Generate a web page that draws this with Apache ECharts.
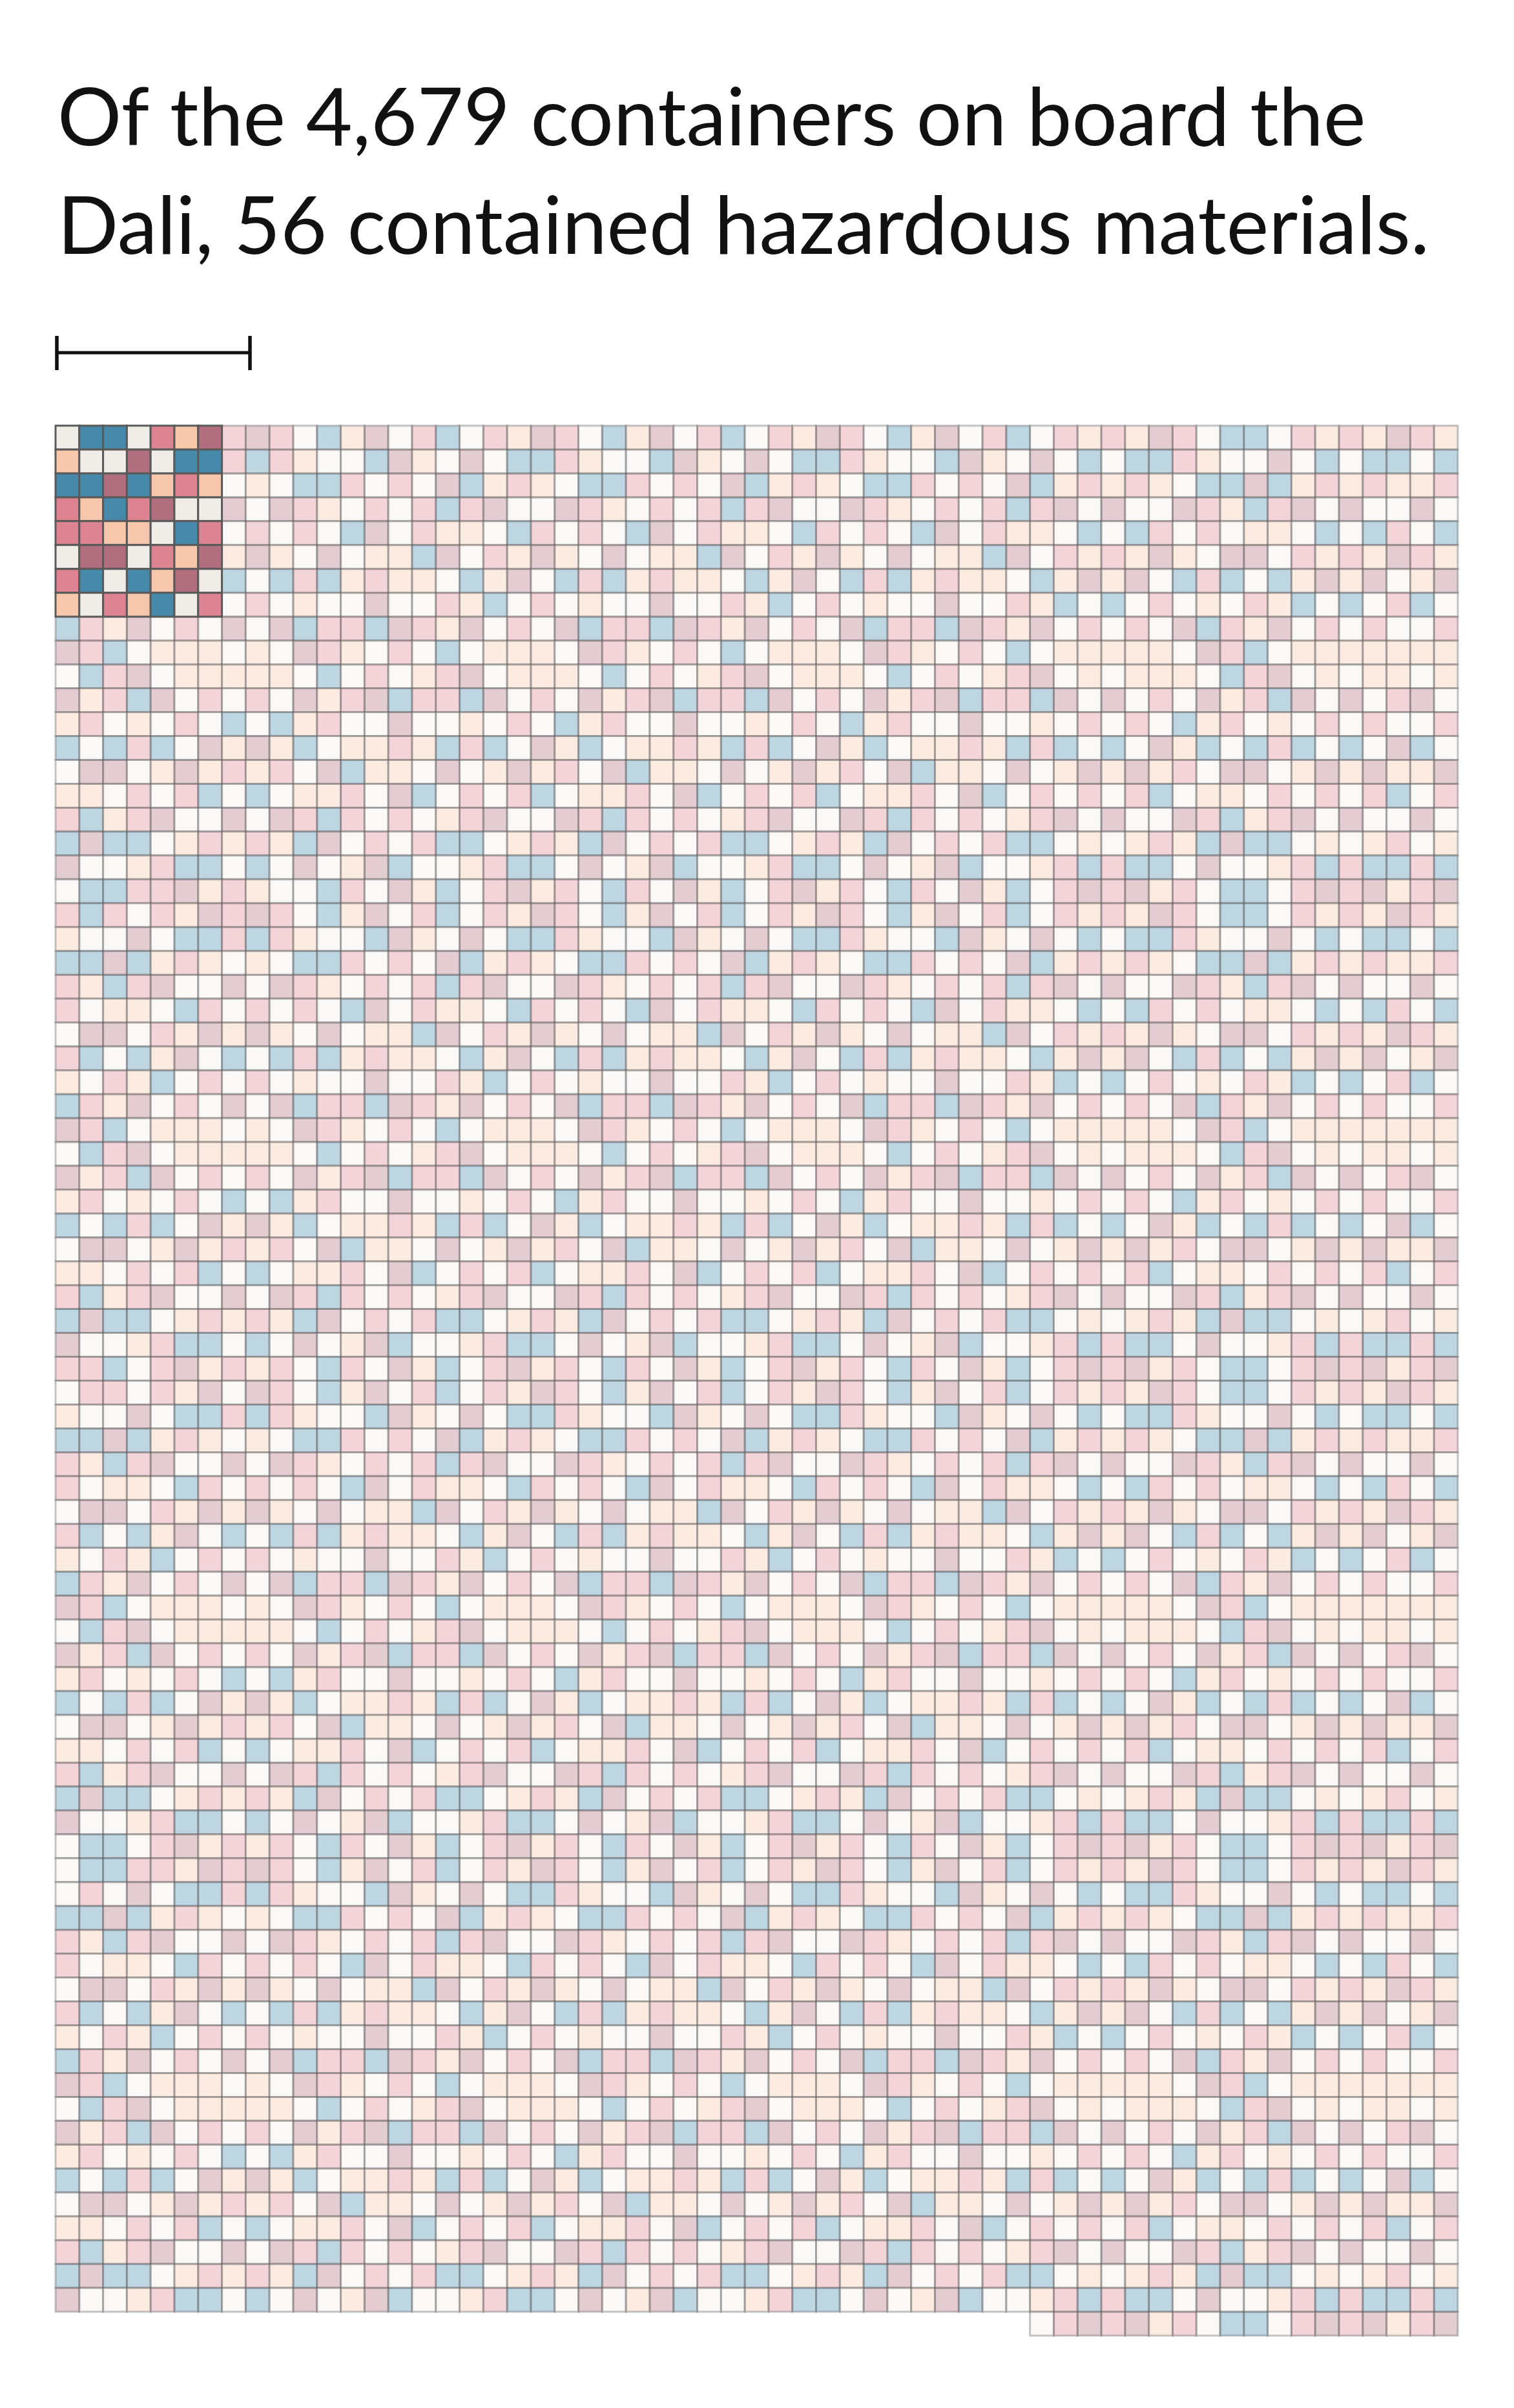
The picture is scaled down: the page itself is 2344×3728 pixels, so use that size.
<!DOCTYPE html>
<html>
<head>
<meta charset="utf-8">
<script src="https://cdn.jsdelivr.net/npm/echarts@6/dist/echarts.min.js"></script>
<style>
html,body{margin:0;padding:0;background:#ffffff;}
#chart{width:2344px;height:3728px;}
</style>
</head>
<body>
<div id="chart"></div>
<script>
// ---------- DATA ----------
const titleLines = [
  "Of the 4,679 containers on board the",
  "Dali, 56 contained hazardous materials."
];
const totalContainers = 4679;
const hazardousContainers = 56;

// colour classes of the containers: b = blue, p = pink, o = peach, m = mauve, w = white
const categories = ['b', 'p', 'o', 'm', 'w'];

// one string per row of the grid, one letter per container, read left to right;
// UPPERCASE = container with hazardous materials, '.' = no container; spaces are only for readability
const rows = [
  "WBBWPOMp mpwbomwpbwpo mpwbomwpbwpo mpwbomwpbwpo pompwbbwpopompo",
  "OWWMWBBp bpowwbmowmwb bpowwbmowmwb bpowwbmowmwb wbbpowwmwbwbbwb",
  "BBMBOPOw owbbpwpwmbop owbbpwpwmbop owbbpwpwmbop opowbbmbopopoop",
  "POBPMWWm wmpowpwpbpmw wmpowpwpbpmw wmpowpwpbpmw mwwmpobpmwmwwmw",
  "PPOOWBPw pwpwbmwpoowb pwpwbmwpoowb pwpwbmwpoowb wbpwpwoowbwbpwb",
  "WMMWPOMo mowmwoobmwpo mowmwoobmwpo mowmwoobmwpo pomowmmwpopompo",
  "PBWBOMWb wbpbopoowbom wbpbopoowbom wbpbopoowbom omwbpbwbomomwom",
  "OWPOBWPw pwowwmwwpobw pwowwmwwpobw pwowwmwwpobw bwpwowpobwbwpbw",
  "bpomwpwm wmbppbmpomwp wmbppbmpomwp wmbppbmpomwp wpwmbpomwpwpwwp",
  "mpbwooow owmpowpwbwoo owmpowpwbwoo owmpowpwbwoo ooowmpbwooooooo",
  "wbpmwooo oowbwpwopmwo oowbwpwopmwo oowbwpwopmwo wooowbpmwowoowo",
  "mopbmwpw pwmopmbppbmw pwmopmbppbmw pwmopmbppbmw mwpwmopbmwmwpmw",
  "opwowpwb wbopwwmwwowp wbopwwmwwowp wbopwwmwwowp wpwbopwowpwpwwp",
  "bwbpbwmo mobwoopobpbw mobwoopobpbw mobwoopobpbw bwmobwbpbwbwmbw",
  "wmmwomop opwmboowmwom opwmboowmwom opwmboowmwom omopwmmwomomoom",
  "oowpwpbw bwoopwmbwpwp bwoopwmbwpwp bwoopwmbwpwp wpbwoowpwpwpbwp",
  "pbopmwwm wmpbpwpwopmw wmpbpwpwopmw wmpbpwpwopmw mwwmpbopmwmwwmw",
  "bmbbwopo pobmwpwpbbwo pobmwpwpbbwo pobmwpwpbbwo wopobmbbwowopwo",
  "mwwopbbw bwmwombwwopb bwmwombwwopb bwmwombwwopb pbbwmwwopbpbbpb",
  "wbbppmop owwbpwmobwpm opwbpwmobwpm opwbpwmobwpm pmopwbbwpmpmopm",
  "pbpwpomp mpwbomwpbwpo mpwbomwpbwpo mpwbomwpbwpo pompwbbwpopompo",
  "owwmwbbp bpowwbmowmwb bpowwbmowmwb bpowwbmowmwb wbbpowwmwbwbbwb",
  "bbmbopow owbbpwpwmbop owbbpwpwmbop owbbpwpwmbop opowbbmbopopoop",
  "pobpmwwm wmpowpwpbpmw wmpowpwpbpmw wmpowpwpbpmw mwwmpobpmwmwwmw",
  "pwoowbpw pwpwbmwpoowb pwpwbmwpoowb pwpwbmwpoowb wbpwpwoowbwbpwb",
  "wmmwpomo mowmwoobmwpo mowmwoobmwpo mowmwoobmwpo pomowmmwpopompo",
  "pbwbomwb wbpbopoowbom wbpbopoowbom wbpbopoowbom omwbpbwbomomwom",
  "owpobwpw pwowwmwwpobw pwowwmwwpobw pwowwmwwpobw bwpwowpobwbwpbw",
  "bpomwpwm wmbppbmpomwp wmbppbmpomwp wmbppbmpomwp wpwmbpomwpwpwwp",
  "mpbwooow owmpowpwbwoo owmpowpwbwoo owmpowpwbwoo ooowmpbwooooooo",
  "wbpmwooo oowbwpwopmwo oowbwpwopmwo oowbwpwopmwo wooowbpmwowoowo",
  "mopbmwpw pwmopmbppbmw pwmopmbppbmw pwmopmbppbmw mwpwmopbmwmwpmw",
  "opwowpwb wbopwwmwwowp wbopwwmwwowp wbopwwmwwowp wpwbopwowpwpwwp",
  "bwbpbwmo mobwoopobpbw mobwoopobpbw mobwoopobpbw bwmobwbpbwbwmbw",
  "wmmwomop opwmboowmwom opwmboowmwom opwmboowmwom omopwmmwomomoom",
  "oowpwpbw bwoopwmbwpwp bwoopwmbwpwp bwoopwmbwpwp wpbwoowpwpwpbwp",
  "pbopmwwm wmpbpwpwopmw wmpbpwpwopmw wmpbpwpwopmw mwwmpbopmwmwwmw",
  "bmbbwopo pobmwpwpbbwo pobmwpwpbbwo pobmwpwpbbwo wopobmbbwowopwo",
  "mwwopbbw bwmwombwwopb bwmwombwwopb bwmwombwwopb pbbwmwwopbpbbpb",
  "ppbwpmop opwbpwmobwpm opwbpwmobwpm opwbpwmobwpm pmopwbbwpmpmopm",
  "wppwpomw mpwbomwpbwpo mpwbomwpbwpo mpwbomwpbwpo pompwbbwpopompo",
  "owwmwbbp bpowwbmowmwb bpowwbmowmwb bpowwbmowmwb wbbpowwmwbwbbwb",
  "bbmbopow owbbpwpwmbop owbbpwpwmbop owbbpwpwmbop opowbbmbopopoop",
  "pobpmwwm wmpowpwpbpmw wmpowpwpbpmw wmpowpwpbpmw mwwmpobpmwmwwmw",
  "pwoowbpw pwpwbmwpoowb pwpwbmwpoowb pwpwbmwpoowb wbpwpwoowbwbpwb",
  "wmmwpomo mowmwoobmwpo mowmwoobmwpo mowmwoobmwpo pomowmmwpopompo",
  "pbwbomwb wbpbopoowbom wbpbopoowbom wbpbopoowbom omwbpbwbomomwom",
  "owpobwpw pwowwmwwpobw pwowwmwwpobw pwowwmwwpobw bwpwowpobwbwpbw",
  "bpomwpwm wmbppbmpomwp wmbppbmpomwp wmbppbmpomwp wpwmbpomwpwpwwp",
  "mpbwooow owmpowpwbwoo owmpowpwbwoo owmpowpwbwoo ooowmpbwooooooo",
  "wbpmwooo oowbwpwopmwo oowbwpwopmwo oowbwpwopmwo wooowbpmwowoowo",
  "mopbmwpw pwmopmbppbmw pwmopmbppbmw pwmopmbppbmw mwpwmopbmwmwpmw",
  "opwowpwb wbopwwmwwowp wbopwwmwwowp wbopwwmwwowp wpwbopwowpwpwwp",
  "bwbpbwmo mobwoopobpbw mobwoopobpbw mobwoopobpbw bwmobwbpbwbwmbw",
  "wmmwomop opwmboowmwom opwmboowmwom opwmboowmwom omopwmmwomomoom",
  "oowpwpbw bwoopwmbwpwp bwoopwmbwpwp bwoopwmbwpwp wpbwoowpwpwpbwp",
  "pbopmwwm wmpbpwpwopmw wmpbpwpwopmw wmpbpwpwopmw mwwmpbopmwmwwmw",
  "bmbbwopo pobmwpwpbbwo pobmwpwpbbwo pobmwpwpbbwo wopobmbbwowopwo",
  "mwwopbbw bwmwombwwopb bwmwombwwopb bwmwombwwopb pbbwmwwopbpbbpb",
  "wbbwpmop opwbpwmobwpm opwbpwmobwpm opwbpwmobwpm pmopwbbwpmpmopm",
  "wbbppomp mpwbomwpbwpo mpwbomwpbwpo mpwbomwpbwpo pompwbbwpopompo",
  "wpwmwbbp bpowwbmowmwb bpowwbmowmwb bpowwbmowmwb wbbpowwmwbwbbwb",
  "bbmbopow owbbpwpwmbop owbbpwpwmbop owbbpwpwmbop opowbbmbopopoop",
  "pobpmwwm wmpowpwpbpmw wmpowpwpbpmw wmpowpwpbpmw mwwmpobpmwmwwmw",
  "pwoowbpw pwpwbmwpoowb pwpwbmwpoowb pwpwbmwpoowb wbpwpwoowbwbpwb",
  "wmmwpomo mowmwoobmwpo mowmwoobmwpo mowmwoobmwpo pomowmmwpopompo",
  "pbwbomwb wbpbopoowbom wbpbopoowbom wbpbopoowbom omwbpbwbomomwom",
  "owpobwpw pwowwmwwpobw pwowwmwwpobw pwowwmwwpobw bwpwowpobwbwpbw",
  "bpomwpwm wmbppbmpomwp wmbppbmpomwp wmbppbmpomwp wpwmbpomwpwpwwp",
  "mpbwooow owmpowpwbwoo owmpowpwbwoo owmpowpwbwoo ooowmpbwooooooo",
  "wbpmwooo oowbwpwopmwo oowbwpwopmwo oowbwpwopmwo wooowbpmwowoowo",
  "mopbmwpw pwmopmbppbmw pwmopmbppbmw pwmopmbppbmw mwpwmopbmwmwpmw",
  "opwowpwb wbopwwmwwowp wbopwwmwwowp wbopwwmwwowp wpwbopwowpwpwwp",
  "bwbpbwmo mobwoopobpbw mobwoopobpbw mobwoopobpbw bwmobwbpbwbwmbw",
  "wmmwomop opwmboowmwom opwmboowmwom opwmboowmwom omopwmmwomomoom",
  "oowpwpbw bwoopwmbwpwp bwoopwmbwpwp bwoopwmbwpwp wpbwoowpwpwpbwp",
  "pbopmwwm wmpbpwpwopmw wmpbpwpwopmw wmpbpwpwopmw mwwmpbopmwmwwmw",
  "bmbbwopo pobmwpwpbbwo pobmwpwpbbwo pobmwpwpbbwo wopobmbbwowopwo",
  "mwwopbbw bwmwombwwopb bwmwombwwopb bwmwombwwopb pbbwmwwopbpbbpb",
  "........ ............ ............ .........wpm pmopwbbwpmpmopm"
];

// ---------- STYLE ----------
const palette = {
  b: '#4689ab',
  p: '#dd8391',
  o: '#f6c7aa',
  m: '#b06e7f',
  w: '#f0ede8'
};
const paleOpacity = 0.35;
const cellBorder = '#5a5a5a';

// ---------- BUILD ----------
const grid = rows.map(function (s) { return s.replace(/\s+/g, ''); });
const nCols = grid[0].length;
const nRows = grid.length;
const normalItems = [];
const hazardItems = [];
grid.forEach(function (line, r) {
  for (let c = 0; c < line.length; c++) {
    const ch = line[c];
    if (ch === '.') continue;
    const key = ch.toLowerCase();
    const k = categories.indexOf(key);
    const hz = ch !== key ? 1 : 0;
    (hz ? hazardItems : normalItems).push([c, r, k, hz]);
  }
});
console.log('containers', normalItems.length + hazardItems.length, 'hazardous', hazardItems.length, 'cols', nCols, 'rows', nRows);

const chart = echarts.init(document.getElementById('chart'), null, { renderer: 'canvas' });

function renderCell(params, api) {
  const c = api.value(0), r = api.value(1), k = api.value(2), hz = api.value(3);
  const a = api.coord([c, r]);
  const b = api.coord([c + 1, r + 1]);
  return {
    type: 'rect',
    shape: { x: a[0], y: a[1], width: b[0] - a[0], height: b[1] - a[1] },
    style: {
      fill: palette[categories[k]],
      stroke: cellBorder,
      lineWidth: 3,
      opacity: hz ? 1 : paleOpacity
    }
  };
}

chart.setOption({
  backgroundColor: '#ffffff',
  animation: false,
  grid: { left: 86, top: 659, width: 2171, height: 2957, containLabel: false },
  xAxis: { type: 'value', min: 0, max: nCols, show: false },
  yAxis: { type: 'value', min: 0, max: nRows, inverse: true, show: false },
  series: [
    {
      type: 'custom', name: 'containers', coordinateSystem: 'cartesian2d',
      silent: true, clip: false, progressive: 0,
      encode: { x: 0, y: 1 },
      data: normalItems, renderItem: renderCell
    },
    {
      type: 'custom', name: 'hazardous', coordinateSystem: 'cartesian2d',
      silent: true, clip: false, progressive: 0, z: 3,
      encode: { x: 0, y: 1 },
      data: hazardItems, renderItem: renderCell
    }
  ],
  graphic: [
    { type: 'text', x: 89, y: 185, silent: true,
      style: { text: titleLines[0], font: '400 124px Lato', fill: '#111111',
               textAlign: 'left', textVerticalAlign: 'middle', verticalAlign: 'middle' } },
    { type: 'text', x: 89, y: 353, silent: true,
      style: { text: titleLines[1], font: '400 124px Lato', fill: '#111111',
               textAlign: 'left', textVerticalAlign: 'middle', verticalAlign: 'middle' } },
    { type: 'line', silent: true, shape: { x1: 88, y1: 546, x2: 387, y2: 546 },
      style: { stroke: '#111111', lineWidth: 5 } },
    { type: 'line', silent: true, shape: { x1: 88, y1: 520, x2: 88, y2: 573 },
      style: { stroke: '#111111', lineWidth: 5.5 } },
    { type: 'line', silent: true, shape: { x1: 387, y1: 520, x2: 387, y2: 573 },
      style: { stroke: '#111111', lineWidth: 5.5 } }
  ]
});
</script>
</body>
</html>
